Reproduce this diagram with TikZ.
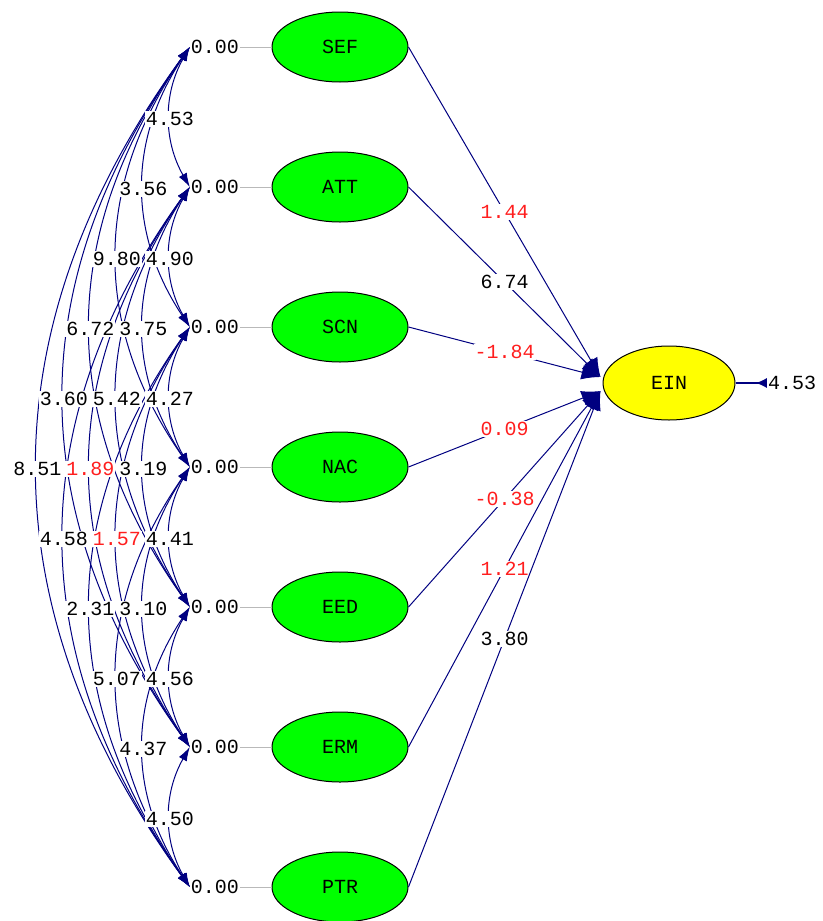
\documentclass[tikz,border=0pt]{standalone}
\usepackage{fontspec}
\newfontfamily\lmono{Liberation Mono}
\usetikzlibrary{shapes.geometric,arrows.meta,calc}
\definecolor{navy}{RGB}{0,0,128}
\definecolor{lred}{RGB}{255,30,30}
\definecolor{lgreen}{RGB}{0,255,0}
\definecolor{lyellow}{RGB}{255,255,0}
\begin{document}
\begin{tikzpicture}[x=1pt,y=-1pt,
  font=\lmono\fontsize{20}{24}\selectfont,
  latent/.style={ellipse,draw=black,line width=1pt,fill=lgreen,minimum width=136pt,minimum height=70pt,inner sep=0pt},
  endo/.style={latent,fill=lyellow,minimum width=132pt,minimum height=74pt},
  val/.style={fill=white,inner sep=1pt,text=black},
  redval/.style={val,text=lred},
  varlab/.style={inner sep=1pt,text=black},
  gpath/.style={draw=navy,line width=1pt,-{Latex[length=19pt,width=15pt]}},
  cov/.style={draw=navy,line width=1pt,{Latex[length=14pt,width=9pt]}-{Latex[length=14pt,width=9pt]}},
  ]
\useasboundingbox (0,0) rectangle (822,921);
% latent variables and variance labels
\foreach \t [count=\k] in {SEF,ATT,SCN,NAC,EED,ERM,PTR}{
  \pgfmathsetmacro\yy{47+140*(\k-1)}
  \node[latent] (L\k) at (340,\yy) {\t};
  \node[varlab] (v\k) at (215,\yy) {0.00};
  \draw[gray!55,line width=0.8pt] (v\k.east) -- (L\k.west);
}
% covariance arcs
\foreach \i/\j in {1/2,1/3,1/4,1/5,1/6,1/7,2/3,2/4,2/5,2/6,2/7,3/4,3/5,3/6,3/7,4/5,4/6,4/7,5/6,5/7,6/7}{
  \pgfmathsetmacro\bow{26.5*(\j-\i)-6.5}
  \pgfmathsetmacro\cx{-4/3*\bow}
  \pgfmathsetmacro\cy{140*(\j-\i)/3}
  \draw[cov] (v\i.west) .. controls ($(v\i.west)+(\cx,\cy)$) and ($(v\j.west)+(\cx,-\cy)$) .. (v\j.west);
}
\foreach \i/\j/\val/\st in {1/2/4.53/val,1/3/3.56/val,1/4/9.80/val,1/5/6.72/val,1/6/3.60/val,1/7/8.51/val,
  2/3/4.90/val,2/4/3.75/val,2/5/5.42/val,2/6/1.89/redval,2/7/4.58/val,
  3/4/4.27/val,3/5/3.19/val,3/6/1.57/redval,3/7/2.31/val,
  4/5/4.41/val,4/6/3.10/val,4/7/5.07/val,
  5/6/4.56/val,5/7/4.37/val,6/7/4.50/val}{
  \pgfmathsetmacro\bow{26.5*(\j-\i)-6.5}
  \node[\st] (c\i\j) at ($(v\i.west)!0.5!(v\j.west)+(-\bow,2)$) {\val};
}
% endogenous variable
\node[endo] (EIN) at (669,383) {EIN};
\coordinate (inU) at ($(EIN.west)+(-2,-6)$);
\coordinate (inL) at ($(EIN.west)+(-2,8)$);
\draw[gpath] (L1.east) -- node[redval,pos=0.5] (p1) {1.44} (inU);
\draw[gpath] (L2.east) -- node[val,pos=0.5] (p2) {6.74} (inU);
\draw[gpath] (L3.east) -- node[redval,pos=0.5] (p3) {-1.84} (inU);
\draw[gpath] (L4.east) -- node[redval,pos=0.5] (p4) {0.09} (inL);
\draw[gpath] (L5.east) -- node[redval,pos=0.5] (p5) {-0.38} (inL);
\draw[gpath] (L6.east) -- node[redval,pos=0.5] (p6) {1.21} (inL);
\draw[gpath] (L7.east) -- node[val,pos=0.5] (p7) {3.80} (inL);
% error term
\node[varlab] (e) at (792,383) {4.53};
\draw[navy,line width=1.2pt,-{Latex[length=11pt,width=10pt,reversed]}] (EIN.east) -- (e.west);
\end{tikzpicture}
\end{document}
